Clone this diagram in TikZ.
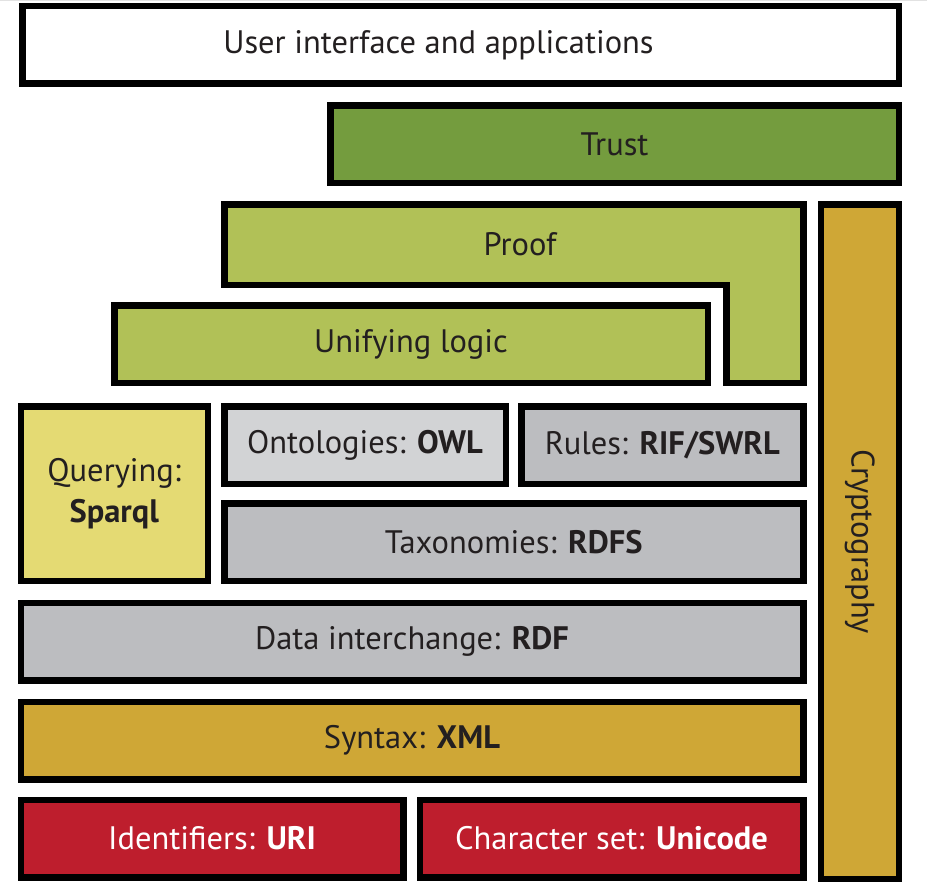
\documentclass[tikz,border=0pt]{standalone}
\usepackage{fontspec}
\setmainfont{PT Sans}
\definecolor{trustc}{HTML}{749C3E}
\definecolor{proofc}{HTML}{B1C157}
\definecolor{cryptc}{HTML}{CFA736}
\definecolor{queryc}{HTML}{E4DA73}
\definecolor{ontoc}{HTML}{D2D3D5}
\definecolor{grayc}{HTML}{BCBDC0}
\definecolor{redc}{HTML}{BE1E2D}
\definecolor{inkc}{HTML}{231F20}
\definecolor{edgec}{HTML}{E2E2E2}
\tikzset{
  layer/.style={draw=black, line width=6.5pt, inner sep=0pt, outer sep=0pt,
    rectangle, text=inkc, font=\fontsize{32.5}{41}\selectfont, align=center},
  lbl/.style={inner sep=0pt, text=inkc, font=\fontsize{32.5}{41}\selectfont}
}
% layer box from outer edges: x1,y1,x2,y2
\newcommand\layerbox[7]{%
  \node[layer, fill=#2, minimum width={#5-#3-6.5pt}, minimum height={#6-#4-6.5pt}]
    (#1) at ({(#3+#5)/2},{(#4+#6)/2}) {#7};}
\begin{document}
\begin{tikzpicture}[x=1pt,y=-1pt]
\useasboundingbox[fill=white] (0,0) rectangle (927,891);
\fill[edgec] (0,0) rectangle (927,1.5);
% User interface
\layerbox{ui}{white}{19}{3}{902}{87}{}
\node[lbl] (uitext) at ([xshift=-22pt]ui.center) {User interface and applications};
% Trust
\layerbox{trust}{trustc}{327}{102}{902}{186}{Trust}
% Proof L-shape
\draw[line width=6.5pt, line join=miter, fill=proofc]
  (224.25,204.25) -- (803.25,204.25) -- (803.25,382.75) -- (726.25,382.75)
  -- (726.25,284.75) -- (224.25,284.75) -- cycle;
\node[lbl] (proof) at (520,244) {Proof};
% Cryptography
\layerbox{crypt}{cryptc}{817.5}{201}{902}{882}{}
\node[lbl, rotate=-90] (crypttext) at (crypt.center) {Cryptography};
% Unifying logic
\layerbox{unify}{proofc}{111}{302}{711}{386}{Unifying logic}
% Querying
\layerbox{query}{queryc}{17.5}{403}{211}{584}{Querying:\\\textbf{Sparql}}
% Ontologies
\layerbox{onto}{ontoc}{221}{403}{509}{487}{Ontologies: \textbf{OWL}}
% Rules
\layerbox{rules}{grayc}{518}{403}{806.5}{487}{Rules: \textbf{RIF/SWRL}}
% Taxonomies
\layerbox{taxo}{grayc}{221}{500}{806.5}{584}{Taxonomies: \textbf{RDFS}}
% Data interchange
\layerbox{data}{grayc}{17.5}{599.5}{806.5}{683.5}{Data interchange: \textbf{RDF}}
% Syntax
\layerbox{syntax}{cryptc}{17.5}{698.5}{806.5}{782.5}{Syntax: \textbf{XML}}
% Identifiers
\layerbox{ident}{redc}{17.5}{796.5}{406.5}{880.5}{\textcolor{white}{Identifiers: \textbf{URI}}}
% Character set
\layerbox{charset}{redc}{416.5}{796.5}{806.5}{880.5}{\textcolor{white}{Character set: \textbf{Unicode}}}
\end{tikzpicture}
\end{document}
